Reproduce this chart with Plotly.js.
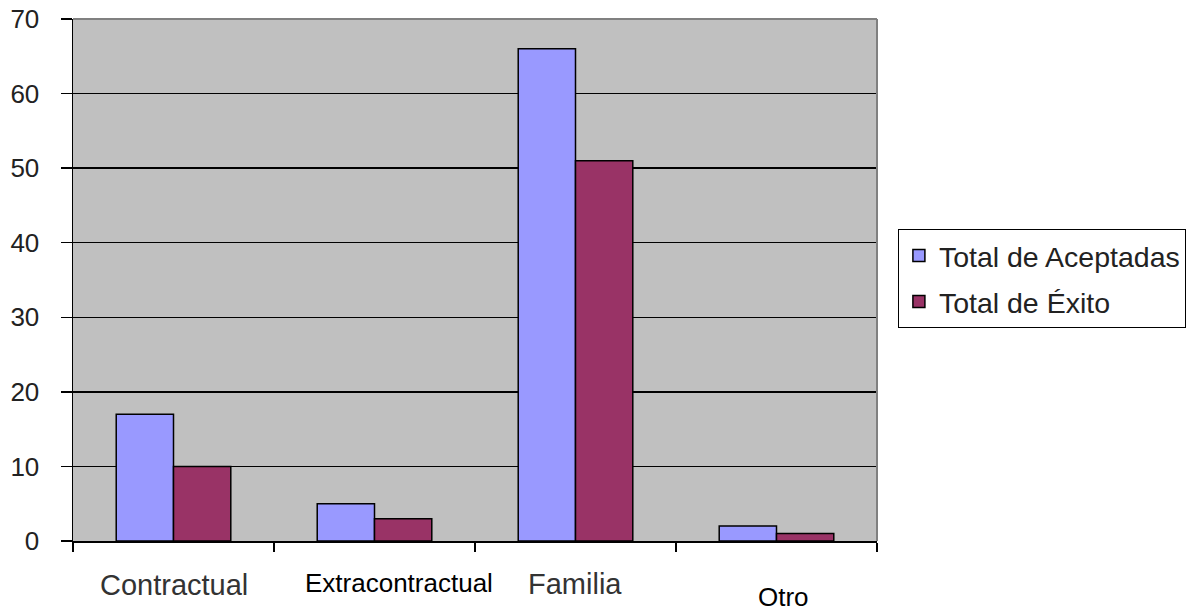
<!DOCTYPE html>
<html>
<head>
<meta charset="utf-8">
<script src="https://cdn.plot.ly/plotly-3.0.1.min.js"></script>
<style>html,body{margin:0;padding:0;background:#fff;}#chart{width:1191px;height:614px;}</style>
</head>
<body>
<div id="chart"></div>
<script>
const categories = ["Contractual", "Extracontractual", "Familia", "Otro"];
const aceptadas = [17, 5, 66, 2];
const exito = [10, 3, 51, 1];
const seriesNames = ["Total de Aceptadas", "Total de Éxito"];
const yTicks = [0, 10, 20, 30, 40, 50, 60, 70];

const baseFont = "'Liberation Sans', Arial, sans-serif";
// per-label presentation (mimics the quirky Excel label placement)
const labelLook = [
  {size: 29, color: "#333", dx: 0, dy: -44},
  {size: 26, color: "#000", dx: 24, dy: -42},
  {size: 29, color: "#333", dx: -1, dy: -43},
  {size: 26, color: "#000", dx: 7, dy: -56}
];

const traces = [
  {type: "bar", name: seriesNames[0], x: categories, y: aceptadas, legendgroup: "a",
   marker: {color: "#9999FF", line: {color: "#000", width: 1.5}}, hoverinfo: "none"},
  {type: "bar", name: seriesNames[1], x: categories, y: exito, legendgroup: "b",
   marker: {color: "#993366", line: {color: "#000", width: 1.5}}, hoverinfo: "none"}
];

const annotations = categories.map((c, i) => ({
  x: c, xref: "x", y: 0, yref: "paper", yanchor: "middle", xanchor: "center",
  text: c, showarrow: false, xshift: labelLook[i].dx, yshift: labelLook[i].dy,
  font: {family: baseFont, size: labelLook[i].size, color: labelLook[i].color}
}));

const layout = {
  width: 1191, height: 614,
  margin: {l: 73, r: 314, t: 19, b: 73, pad: 0, autoexpand: false},
  paper_bgcolor: "#fff", plot_bgcolor: "#C0C0C0",
  barmode: "group", bargap: 0.43, bargroupgap: 0,
  showlegend: true,
  legend: {x: 1.026, y: 0.597, xanchor: "left", yanchor: "top",
    bgcolor: "#fff", bordercolor: "#000", borderwidth: 1,
    traceorder: "grouped", tracegroupgap: 6,
    font: {family: baseFont, size: 28.5, color: "#222"}},
  xaxis: {type: "category", showticklabels: false, tickson: "boundaries",
    ticks: "outside", ticklen: 9, tickcolor: "#000", tickwidth: 1.5,
    showline: true, linecolor: "#000", linewidth: 1.5, showgrid: false, fixedrange: true},
  yaxis: {range: [0, 70], tickvals: yTicks, ticktext: yTicks.map(String),
    ticks: "outside", ticklen: 11, tickcolor: "#000", tickwidth: 1.5,
    showline: true, linecolor: "#000", linewidth: 1.5,
    showgrid: true, gridcolor: "#000", gridwidth: 1.5, zeroline: false,
    tickfont: {family: baseFont, size: 26, color: "#222"}, ticklabelstandoff: 16, fixedrange: true},
  shapes: [
    {type: "line", xref: "paper", yref: "paper", x0: 0, x1: 1, y0: 1, y1: 1, line: {color: "#808080", width: 2}},
    {type: "line", xref: "paper", yref: "paper", x0: 1, x1: 1, y0: 0, y1: 1, line: {color: "#808080", width: 2}}
  ],
  annotations: annotations
};

Plotly.newPlot("chart", traces, layout, {displayModeBar: false, staticPlot: true});
</script>
</body>
</html>
